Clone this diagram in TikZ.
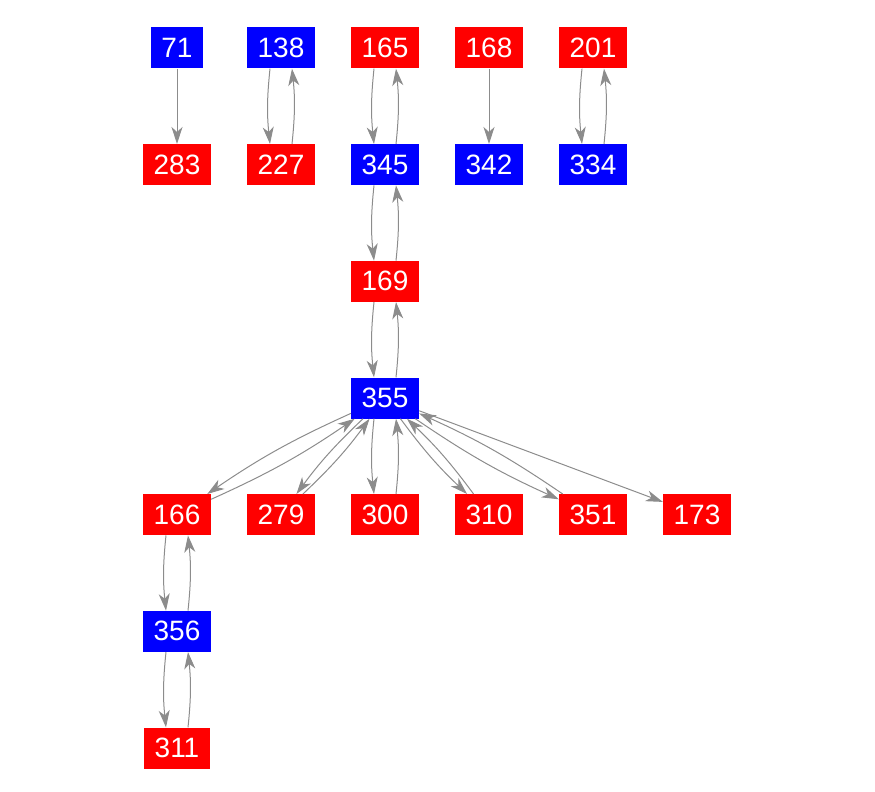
\documentclass[tikz,border=0pt]{standalone}
\usepackage{fontspec}
\setmainfont{Liberation Sans}
\usetikzlibrary{arrows.meta,positioning}

\definecolor{vred}{RGB}{255,0,0}
\definecolor{vblue}{RGB}{0,0,255}
\definecolor{linkgray}{RGB}{140,140,140}

\tikzset{
  vtx/.style={rectangle, text=white, minimum height=41pt, minimum width=52pt,
    inner xsep=10.6pt, font=\fontsize{28}{28}\selectfont},
  rv/.style={vtx, fill=vred},
  bv/.style={vtx, fill=vblue},
  link/.style={draw=linkgray, line width=1pt,
    -{Stealth[length=17pt,width=11pt,inset=5pt]}}
}

\begin{document}
\begin{tikzpicture}[x=1pt,y=1pt,node distance=116.67pt and 104pt,on grid,
   every edge/.style={link}]
   \useasboundingbox (0,0) rectangle (875,-792);
   % top rows
   \node[bv] (v71) at (177,-48) {71};
   \node[bv] (v138) [right=of v71]  {138};
   \node[rv] (v165) [right=of v138] {165};
   \node[rv] (v168) [right=of v165] {168};
   \node[rv] (v201) [right=of v168] {201};
   \node[rv] (v283) [below=of v71]  {283};
   \node[rv] (v227) [below=of v138] {227};
   \node[bv] (v345) [below=of v165] {345};
   \node[bv] (v342) [below=of v168] {342};
   \node[bv] (v334) [below=of v201] {334};
   % middle chain
   \node[rv] (v169) [below=of v345] {169};
   \node[bv] (v355) [below=of v169] {355};
   % fan row
   \node[rv] (v300) [below=of v355] {300};
   \node[rv] (v279) [left=of v300]  {279};
   \node[rv] (v166) [left=of v279]  {166};
   \node[rv] (v310) [right=of v300] {310};
   \node[rv] (v351) [right=of v310] {351};
   \node[rv] (v173) [right=of v351] {173};
   % lower chain
   \node[bv] (v356) [below=of v166] {356};
   \node[rv] (v311) [below=of v356] {311};

   \path
    (v71) edge (v283)
    ([xshift=-11pt]v138.south) edge[bend right=6] ([xshift=-11pt]v227.north)
    ([xshift=11pt]v227.north)  edge[bend right=6] ([xshift=11pt]v138.south)
    ([xshift=-11pt]v165.south) edge[bend right=6] ([xshift=-11pt]v345.north)
    ([xshift=11pt]v345.north)  edge[bend right=6] ([xshift=11pt]v165.south)
    (v168) edge (v342)
    ([xshift=-11pt]v201.south) edge[bend right=6] ([xshift=-11pt]v334.north)
    ([xshift=11pt]v334.north)  edge[bend right=6] ([xshift=11pt]v201.south)
    ([xshift=-11pt]v345.south) edge[bend right=6] ([xshift=-11pt]v169.north)
    ([xshift=11pt]v169.north)  edge[bend right=6] ([xshift=11pt]v345.south)
    ([xshift=-11pt]v169.south) edge[bend right=6] ([xshift=-11pt]v355.north)
    ([xshift=11pt]v355.north)  edge[bend right=6] ([xshift=11pt]v169.south)
    ([xshift=-11pt]v355.south) edge[bend right=6] ([xshift=-11pt]v300.north)
    ([xshift=11pt]v300.north)  edge[bend right=6] ([xshift=11pt]v355.south)
    (v355) edge[bend right=5] (v166)
    (v166) edge[bend right=5] (v355)
    (v355) edge[bend right=5] (v279)
    (v279) edge[bend right=5] (v355)
    (v355) edge[bend right=5] (v310)
    (v310) edge[bend right=5] (v355)
    (v355) edge[bend right=5] (v351)
    (v351) edge[bend right=5] (v355)
    (v355) edge (v173)
    ([xshift=-11pt]v166.south) edge[bend right=6] ([xshift=-11pt]v356.north)
    ([xshift=11pt]v356.north)  edge[bend right=6] ([xshift=11pt]v166.south)
    ([xshift=-11pt]v356.south) edge[bend right=6] ([xshift=-11pt]v311.north)
    ([xshift=11pt]v311.north)  edge[bend right=6] ([xshift=11pt]v356.south);
\end{tikzpicture}
\end{document}
